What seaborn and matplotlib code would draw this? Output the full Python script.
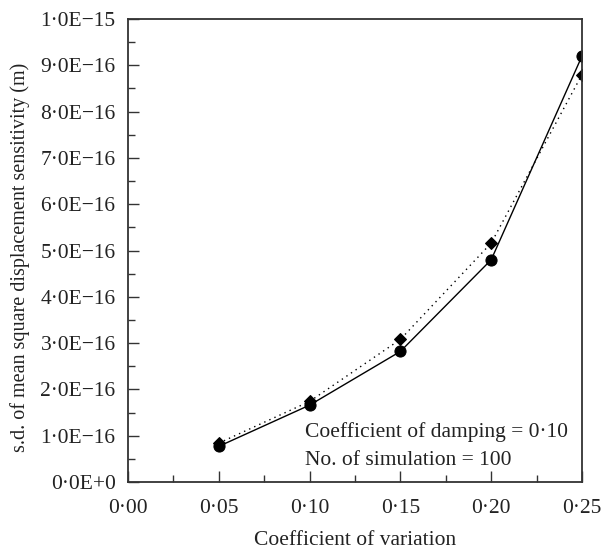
import numpy as np
import pandas as pd
import matplotlib
matplotlib.use('Agg')
import matplotlib.pyplot as plt
import seaborn as sns
from matplotlib.ticker import MultipleLocator, FuncFormatter

# values
cov = [0.05, 0.10, 0.15, 0.20, 0.25]
sd_circle = [0.77e-16, 1.66e-16, 2.82e-16, 4.80e-16, 9.20e-16]
sd_diamond = [0.84e-16, 1.74e-16, 3.08e-16, 5.16e-16, 8.80e-16]
note_lines = ['Coefficient of damping = 0·10', 'No. of simulation = 100']

df = pd.DataFrame({'cov': cov, 'circle': sd_circle, 'diamond': sd_diamond})

sns.set_style('ticks')
plt.rcParams['font.family'] = ['Liberation Serif', 'DejaVu Serif']

fig = plt.figure(figsize=(6.05, 5.5), dpi=100)
ax = fig.add_axes([128/605, 68/550, 454/605, 463/550])

sns.lineplot(data=df, x='cov', y='diamond', ax=ax, color='black', lw=1.0,
             linestyle=(0, (1, 3)), marker='D', markersize=6, markeredgecolor='black')
sns.lineplot(data=df, x='cov', y='circle', ax=ax, color='black', lw=1.0,
             marker='o', markersize=8, markeredgecolor='black')

ax.set_xlim(0, 0.25)
ax.set_ylim(0, 1e-15)
ax.xaxis.set_major_locator(MultipleLocator(0.05))
ax.xaxis.set_minor_locator(MultipleLocator(0.025))
ax.yaxis.set_major_locator(MultipleLocator(1e-16))
ax.yaxis.set_minor_locator(MultipleLocator(0.5e-16))


def xfmt(v, pos):
    return ('%.2f' % v).replace('.', '·')


def yfmt(v, pos):
    m = round(v / 1e-16)
    if m == 0:
        return '0·0E+0'
    if m == 10:
        return '1·0E\u221215'
    return '%d·0E\u221216' % m


ax.xaxis.set_major_formatter(FuncFormatter(xfmt))
ax.yaxis.set_major_formatter(FuncFormatter(yfmt))
ax.tick_params(which='major', direction='in', length=8, width=1, labelsize=15.5,
               color='#333333', labelcolor='#222222')
ax.tick_params(which='minor', direction='in', length=5, width=1, color='#333333')
ax.tick_params(axis='x', pad=12)
ax.tick_params(axis='y', pad=9)
for s in ax.spines.values():
    s.set_linewidth(1.3)
    s.set_color('#333333')

ax.text(0.39, 0.1075, note_lines[0], transform=ax.transAxes, fontsize=15.5,
        va='center', color='#222222')
ax.text(0.39, 0.047, note_lines[1], transform=ax.transAxes, fontsize=15.5,
        va='center', color='#222222')

ax.set_xlabel('Coefficient of variation', fontsize=15.5, color='#222222')
ax.xaxis.set_label_coords(0.5, -0.105)
ax.set_ylabel('s.d. of mean square displacement sensitivity (m)', fontsize=14.5,
              color='#222222')
ax.yaxis.set_label_coords(-0.215, 0.486)

fig.savefig('out.png', dpi=100)
